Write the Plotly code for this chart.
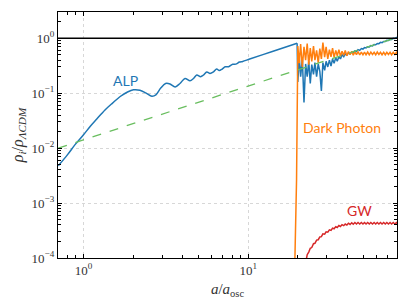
import plotly.graph_objects as go
import math

# ---------------- data ----------------
# ALP, smooth phase before the dark-photon burst
a_alp_early = [0.703, 0.80, 0.891, 1.0, 1.1, 1.2, 1.35, 1.5, 1.67, 1.85, 2.01, 2.2, 2.4, 2.6,
               2.75, 2.95, 3.15, 3.35, 3.6, 3.85, 4.13, 4.43, 4.65, 4.87, 5.14, 5.35, 5.60, 5.86,
               6.15, 6.43, 6.67, 6.95, 7.25, 7.60, 8.05, 8.40, 8.85, 9.25, 10.2, 14.0, 19.8]
alp_early = [0.00476, 0.0076, 0.0117, 0.0175, 0.025, 0.0335, 0.0495, 0.066, 0.087, 0.105, 0.115, 0.113, 0.100, 0.088,
             0.093, 0.125, 0.150, 0.147, 0.130, 0.150, 0.185, 0.168, 0.185, 0.214, 0.199, 0.214, 0.243, 0.229,
             0.245, 0.276, 0.258, 0.275, 0.302, 0.303, 0.336, 0.338, 0.368, 0.378, 0.418, 0.574, 0.81]

# common sample grid after the burst
a_late = [20.0, 20.4, 20.8, 21.3, 21.8, 22.3, 22.8, 23.3,
          23.8, 24.3, 24.9, 25.4, 26.0, 26.6, 27.2, 27.8,
          28.4, 29.1, 29.7, 30.4, 31.1, 31.8, 32.5, 33.2,
          34.0, 34.7, 35.5, 36.3, 37.1, 38.0, 38.8, 39.7,
          40.6, 41.5, 42.5, 43.4, 44.4, 45.4, 46.4, 47.5,
          48.6, 49.7, 50.8, 51.9, 53.1, 54.3, 55.5, 56.8,
          58.1, 59.4, 60.7, 62.1, 63.5, 64.9, 66.4, 67.9,
          69.4, 71.0, 72.6, 74.2, 75.9, 77.6, 79.4, 81.0]

alp_late = [0.16, 0.45, 0.20, 0.42, 0.068, 0.34, 0.20, 0.38,
            0.15, 0.33, 0.22, 0.36, 0.20, 0.34, 0.25, 0.11,
            0.36, 0.26, 0.38, 0.30, 0.40, 0.31, 0.42, 0.35,
            0.44, 0.38, 0.46, 0.42, 0.50, 0.46, 0.52, 0.49,
            0.54, 0.52, 0.56, 0.55, 0.59, 0.57, 0.62, 0.60,
            0.65, 0.635, 0.675, 0.665, 0.70, 0.695, 0.735, 0.725,
            0.77, 0.76, 0.80, 0.795, 0.84, 0.83, 0.875, 0.87,
            0.915, 0.91, 0.96, 0.95, 1.0, 0.99, 1.045, 1.06]

# dark photon: steep rise, then the same late grid
a_dp_rise = [18.9, 19.2, 19.65]
dp_rise = [1e-5, 1e-4, 2.7e-3]
dp_late = [0.72, 0.35, 0.78, 0.30, 0.70, 0.40, 0.80, 0.33,
           0.66, 0.38, 0.72, 0.40, 0.60, 0.36, 0.65, 0.42,
           0.83, 0.45, 0.70, 0.42, 0.62, 0.46, 0.66, 0.45,
           0.60, 0.48, 0.62, 0.47, 0.58, 0.49, 0.60, 0.48,
           0.57, 0.50, 0.58, 0.49, 0.565, 0.50, 0.57, 0.495,
           0.56, 0.50, 0.56, 0.50, 0.56, 0.50, 0.56, 0.505,
           0.555, 0.50, 0.56, 0.505, 0.555, 0.50, 0.555, 0.50,
           0.555, 0.505, 0.555, 0.50, 0.555, 0.505, 0.555, 0.505]

# gravitational waves, from a = 22.3 on (same grid)
a_gw = a_late[5:]
gw = [8e-5, 1.15e-4, 1.28e-4, 1.5e-4, 1.55e-4, 1.82e-4, 1.85e-4, 2.12e-4,
      2.15e-4, 2.42e-4, 2.45e-4, 2.75e-4, 2.72e-4, 3.0e-4, 2.95e-4, 3.25e-4,
      3.18e-4, 3.5e-4, 3.4e-4, 3.72e-4, 3.6e-4, 3.9e-4, 3.75e-4, 4.05e-4,
      3.88e-4, 4.15e-4, 3.98e-4, 4.3e-4, 4.08e-4, 4.38e-4, 4.12e-4,
      4.42e-4, 4.15e-4, 4.42e-4, 4.15e-4, 4.42e-4, 4.15e-4, 4.42e-4, 4.15e-4,
      4.42e-4, 4.15e-4, 4.42e-4, 4.15e-4, 4.42e-4, 4.15e-4, 4.42e-4, 4.15e-4,
      4.42e-4, 4.15e-4, 4.42e-4, 4.15e-4, 4.42e-4, 4.15e-4, 4.42e-4, 4.15e-4,
      4.42e-4, 4.15e-4, 4.42e-4, 4.15e-4]

# reference scaling (dashed) and LCDM line
a_ref = [0.703, 81.0]
ref = [0.0100, 1.048]
a_lcdm = [0.7, 80.0]
lcdm = [1.0, 1.0]

x_range = [0.7, 80.0]
y_range = [1e-4, 3.0]
y_ticks = [1e-4, 1e-3, 1e-2, 1e-1, 1e0]
y_ticktext = ["10<sup>\u22124</sup>", "10<sup>\u22123</sup>", "10<sup>\u22122</sup>",
              "10<sup>\u22121</sup>", "10<sup>0</sup>"]
x_ticks = [1, 10]
x_ticktext = ["10<sup>0</sup>", "10<sup>1</sup>"]

BLUE = "#1f77b4"
ORANGE = "#ff7f0e"
RED = "#d62728"
GREEN = "rgb(105,190,95)"

fig = go.Figure()
fig.add_trace(go.Scatter(x=a_alp_early, y=alp_early, mode="lines",
                         line=dict(color=BLUE, width=1.5, shape="spline", smoothing=0.9)))
fig.add_trace(go.Scatter(x=[a_alp_early[-1]] + a_late, y=[alp_early[-1]] + alp_late, mode="lines",
                         line=dict(color=BLUE, width=1.5)))
fig.add_trace(go.Scatter(x=a_dp_rise + a_late, y=dp_rise + dp_late, mode="lines",
                         line=dict(color=ORANGE, width=1.5)))
fig.add_trace(go.Scatter(x=a_gw, y=gw, mode="lines", line=dict(color=RED, width=1.5)))
fig.add_trace(go.Scatter(x=a_ref, y=ref, mode="lines",
                         line=dict(color=GREEN, width=1.3, dash="dash")))
fig.add_trace(go.Scatter(x=a_lcdm, y=lcdm, mode="lines", line=dict(color="black", width=1.6)))

lab_font = "Lato, 'Open Sans', sans-serif"
fig.add_annotation(x=math.log10(1.80), y=math.log10(0.172), text="ALP", showarrow=False,
                   font=dict(family=lab_font, size=14, color=BLUE))
fig.add_annotation(x=1.569, y=-1.624, text="Dark Photon", showarrow=False,
                   font=dict(family=lab_font, size=14, color=ORANGE))
fig.add_annotation(x=1.675, y=-3.127, text="GW", showarrow=False,
                   font=dict(family=lab_font, size=14, color=RED))

serif = "'Liberation Serif', 'DejaVu Serif', serif"
axis_common = dict(showline=True, linecolor="black", linewidth=1.2, mirror="allticks",
                   ticks="inside", ticklen=4, tickwidth=1, tickcolor="black",
                   showgrid=True, gridcolor="rgb(215,215,215)", griddash="dot", gridwidth=1,
                   zeroline=False, automargin=False,
                   tickfont=dict(family=serif, size=13, color="#333"))

fig.update_xaxes(type="log", range=[math.log10(x_range[0]), math.log10(x_range[1])],
                 tickvals=x_ticks, ticktext=x_ticktext,
                 minor=dict(ticks="inside", ticklen=2.5, tickcolor="black", dtick="D1", showgrid=False),
                 title=dict(text="<i>a</i>/<i>a</i><sub>osc</sub>", font=dict(family=serif, size=15, color="#333"),
                            standoff=6),
                 **axis_common)
fig.update_yaxes(type="log", range=[math.log10(y_range[0]), math.log10(y_range[1])],
                 tickvals=y_ticks, ticktext=y_ticktext,
                 minor=dict(ticks="inside", ticklen=2.5, tickcolor="black", dtick="D1", showgrid=False),
                 title=dict(text="<i>\u03c1<sub>i</sub></i>/<i>\u03c1<sub>\u039bCDM</sub></i>",
                            font=dict(family=serif, size=16, color="#333"), standoff=4),
                 **axis_common)

fig.update_layout(width=407, height=305, margin=dict(l=58, r=10, t=12, b=47),
                  plot_bgcolor="white", paper_bgcolor="white", showlegend=False)

fig.write_html("out.html", config={"displayModeBar": False},
               post_script="document.body.style.margin='0px';document.body.style.overflow='hidden';")
